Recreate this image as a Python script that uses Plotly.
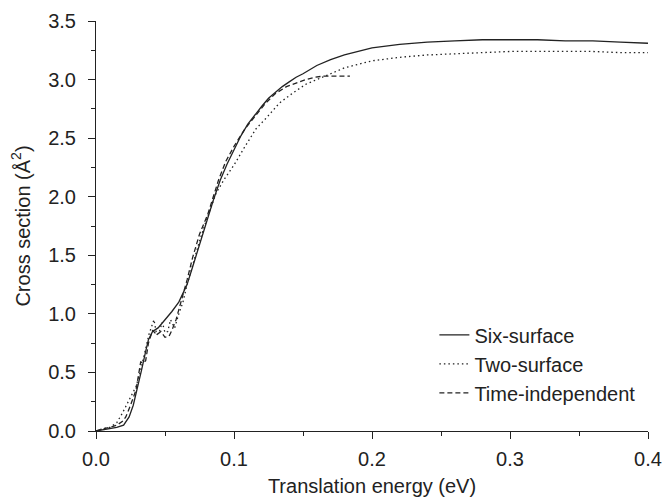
import plotly.graph_objects as go

six_x = [0, 0.005, 0.01, 0.015, 0.02, 0.024, 0.027, 0.03, 0.033, 0.036, 0.038, 0.041, 0.045, 0.05,
         0.055, 0.06, 0.066, 0.07, 0.075, 0.08, 0.085, 0.09, 0.095, 0.1, 0.105, 0.11, 0.115, 0.12,
         0.125, 0.13, 0.135, 0.14, 0.145, 0.15, 0.16, 0.17, 0.18, 0.19, 0.2, 0.22, 0.24, 0.26, 0.28,
         0.3, 0.32, 0.34, 0.36, 0.38, 0.4]
six_y = [0, 0.01, 0.02, 0.03, 0.05, 0.12, 0.22, 0.36, 0.52, 0.68, 0.78, 0.85, 0.88, 0.95,
         1.02, 1.1, 1.25, 1.4, 1.58, 1.78, 1.97, 2.14, 2.28, 2.4, 2.52, 2.62, 2.7, 2.77,
         2.84, 2.89, 2.94, 2.98, 3.02, 3.05, 3.12, 3.17, 3.21, 3.24, 3.27, 3.3, 3.32, 3.33, 3.34,
         3.34, 3.34, 3.33, 3.33, 3.32, 3.31]

two_x = [0, 0.005, 0.01, 0.015, 0.019, 0.023, 0.026, 0.029, 0.032, 0.035, 0.0385, 0.042, 0.044,
         0.046, 0.048, 0.05, 0.052, 0.054, 0.057, 0.06, 0.063, 0.066, 0.07, 0.075, 0.08, 0.087,
         0.093, 0.1, 0.108, 0.116, 0.124, 0.133, 0.142, 0.152, 0.16, 0.17, 0.18, 0.19, 0.2, 0.22,
         0.24, 0.26, 0.28, 0.3, 0.32, 0.34, 0.36, 0.38, 0.4]
two_y = [0, 0.02, 0.03, 0.07, 0.15, 0.24, 0.3, 0.38, 0.5, 0.65, 0.83, 0.95, 0.82,
         0.85, 0.93, 0.84, 0.85, 0.95, 0.88, 1.0, 1.1, 1.25, 1.42, 1.62, 1.8, 2.03,
         2.15, 2.27, 2.43, 2.58, 2.68, 2.8, 2.88, 2.96, 3.0, 3.05, 3.1, 3.13, 3.16, 3.19,
         3.21, 3.22, 3.23, 3.24, 3.24, 3.24, 3.24, 3.23, 3.23]

ti_x = [0, 0.005, 0.01, 0.015, 0.019, 0.0216, 0.025, 0.029, 0.0324, 0.034, 0.036, 0.038, 0.041,
        0.044, 0.047, 0.05, 0.053, 0.055, 0.058, 0.06, 0.063, 0.066, 0.07, 0.075, 0.081, 0.089,
        0.094, 0.1, 0.108, 0.116, 0.123, 0.13, 0.138, 0.145, 0.152, 0.159, 0.165, 0.172, 0.178, 0.184]
ti_y = [0, 0.02, 0.03, 0.05, 0.08, 0.12, 0.22, 0.35, 0.59, 0.58, 0.6, 0.75, 0.86,
        0.82, 0.85, 0.8, 0.81, 0.86, 0.95, 1.03, 1.15, 1.29, 1.48, 1.68, 1.85, 2.15,
        2.3, 2.43, 2.58, 2.7, 2.8, 2.88, 2.94, 2.97, 3.0, 3.02, 3.03, 3.03, 3.03, 3.03]

names = ["Six-surface", "Two-surface", "Time-independent"]
dashes = ["solid", "1.5px,3px", "5px,3px"]

INK = "#222222"
FONT = "Arial, Liberation Sans, sans-serif"
FS = 20

fig = go.Figure()
for xs, ys, nm, ds in zip([six_x, two_x, ti_x], [six_y, two_y, ti_y], names, dashes):
    fig.add_trace(go.Scatter(x=xs, y=ys, mode="lines", name=nm,
                             line=dict(color=INK, width=1.3, dash=ds)))

axis_common = dict(showline=True, linecolor=INK, linewidth=1, ticks="outside", ticklen=7,
                   tickcolor=INK, tickwidth=1, showgrid=False, zeroline=False, automargin=False,
                   tickfont=dict(family=FONT, size=FS, color=INK), tickformat=".1f")

fig.update_layout(
    width=665, height=504,
    margin=dict(l=96, r=17, t=21, b=73),
    paper_bgcolor="white", plot_bgcolor="white",
    font=dict(family=FONT, size=FS, color=INK),
    xaxis=dict(range=[0, 0.4], dtick=0.1, tick0=0, ticklabelstandoff=3,
               minor=dict(dtick=0.05, ticks="outside", ticklen=4, tickcolor=INK),
               title=dict(text="Translation energy (eV)", font=dict(family=FONT, size=FS, color=INK), standoff=9),
               **axis_common),
    yaxis=dict(range=[0, 3.5], dtick=0.5, tick0=0, ticklabelstandoff=8,
               minor=dict(dtick=0.25, ticks="outside", ticklen=4, tickcolor=INK),
               title=dict(text="Cross section (Å<sup>2</sup>)", font=dict(family=FONT, size=FS, color=INK), standoff=12),
               **axis_common),
    legend=dict(x=0.613, y=0.282, xanchor="left", yanchor="top", bgcolor="rgba(0,0,0,0)",
                font=dict(family=FONT, size=FS, color=INK), tracegroupgap=0),
    showlegend=True,
)

fig.write_html("out.html")
